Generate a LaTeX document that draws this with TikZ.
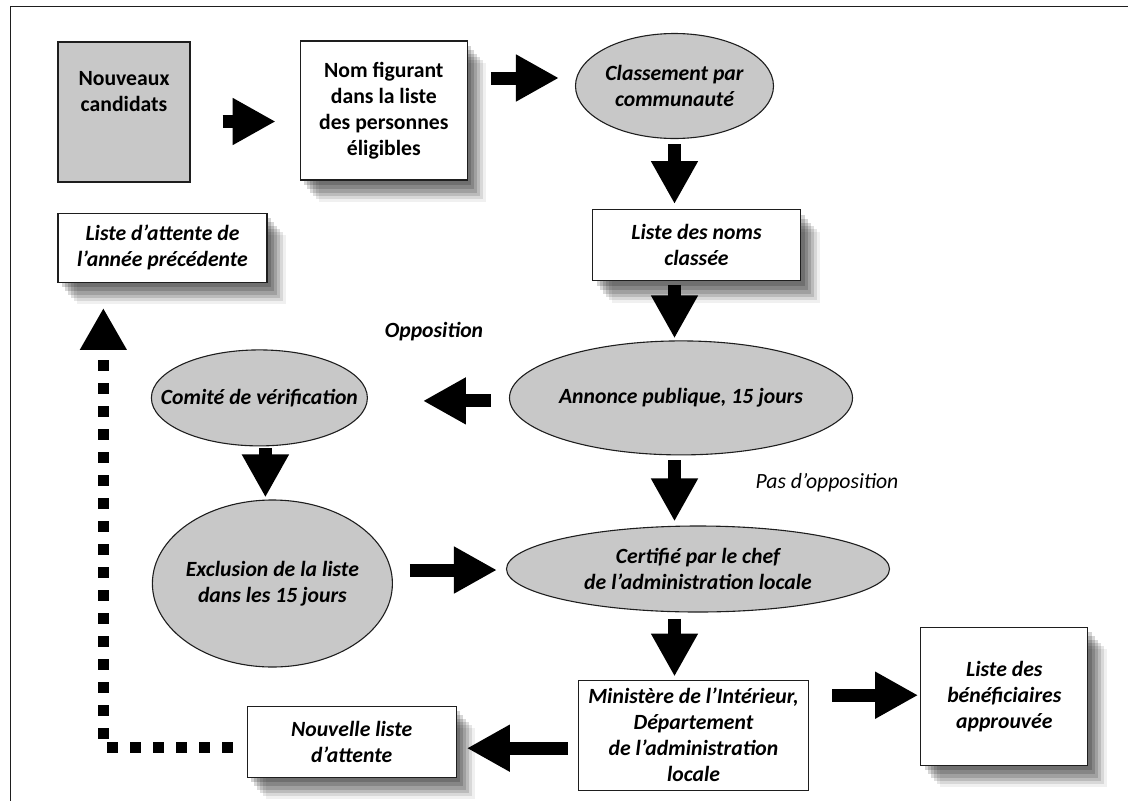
\documentclass[tikz,border=0pt]{standalone}
\usepackage{fontspec}
\setmainfont{Carlito}
\usepackage{tikz}
\usetikzlibrary{positioning,arrows.meta,shapes.geometric,shadows}
\definecolor{grisfond}{HTML}{C8C8C8}
\definecolor{trait}{HTML}{1E1E1E}

\begin{document}
\begin{tikzpicture}[x=1pt,y=-1pt,
   font=\fontsize{21.7}{26}\selectfont\bfseries\itshape,
   ombre/.style={drop shadow={shadow xshift=4pt,shadow yshift=-5pt,fill=black,opacity=.17},
                 drop shadow={shadow xshift=7pt,shadow yshift=-9pt,fill=black,opacity=.16},
                 drop shadow={shadow xshift=10pt,shadow yshift=-13pt,fill=black,opacity=.15},
                 drop shadow={shadow xshift=13pt,shadow yshift=-16pt,fill=black,opacity=.13},
                 drop shadow={shadow xshift=16pt,shadow yshift=-19pt,fill=black,opacity=.1},
                 drop shadow={shadow xshift=19pt,shadow yshift=-22pt,fill=black,opacity=.06}},
   boite/.style={draw=trait,line width=1.3pt,fill=white,align=center,inner sep=2pt},
   grisbox/.style={draw=trait,line width=1.3pt,fill=grisfond,align=center},
   bulle/.style={ellipse,draw=trait,line width=1.1pt,fill=grisfond,align=center,
                 inner xsep=-80pt,inner ysep=0pt},
   droit/.style={font=\fontsize{21.7}{26}\selectfont\bfseries},
   etiq/.style={font=\fontsize{21.7}{26}\selectfont\itshape},
   fleche/.style={line width=13pt,-{Triangle[length=43pt,width=44pt]},
                  shorten <=4pt,shorten >=4pt},
   pointille/.style={line width=11pt,dash pattern=on 11pt off 12pt,
                  -{Triangle[length=42pt,width=44pt]}},
   node distance=30pt,
]
\useasboundingbox (0,0) rectangle (1128,801);
\draw[line width=1.6pt,trait] (10.5,801) |- (1128,6.5);

% ----- haut : candidats et classement
\node[grisbox,minimum width=132pt,minimum height=140pt,
      label={[name=candtxt,anchor=north,yshift=-27pt,align=center,droit]north:Nouveaux\\candidats}]
      (cand) at (124,112) {};
\node[boite,ombre,droit,minimum width=167pt,minimum height=139pt,right=109pt of cand,yshift=1.5pt]
      (nom) {Nom figurant\\dans la liste\\des personnes\\éligibles};
\node[bulle,minimum width=198pt,minimum height=105pt,right=107pt of nom,yshift=24.5pt]
      (classement) {Classement par\\communauté};
\node[boite,ombre,minimum width=208pt,minimum height=71pt,below=70pt of classement,xshift=22pt]
      (classee) {Liste des noms\\classée};
\node[boite,ombre,minimum width=209pt,minimum height=69pt,below=30pt of cand,xshift=38.5pt]
      (attente) {Liste d’attente de\\l’année précédente};

% ----- colonne centrale
\node[bulle,minimum width=343pt,minimum height=114pt,below=59pt of classee,xshift=-15.5pt]
      (annonce) {Annonce publique, 15 jours};
\node[bulle,minimum width=383pt,minimum height=86pt,below=70pt of annonce,xshift=17pt]
      (certifie) {Certifié par le chef\\de l’administration locale};
\node[boite,minimum width=230pt,minimum height=110pt,below=67pt of certifie,xshift=-4.5pt]
      (ministere) {Ministère de l’Intérieur,\\Département\\de l’administration\\locale};
\node[boite,ombre,minimum width=167pt,minimum height=138pt,right=111pt of ministere,yshift=39pt]
      (benef) {Liste des\\bénéficiaires\\approuvée};
\node[boite,ombre,minimum width=209pt,minimum height=71pt,left=121pt of ministere,yshift=-6.5pt]
      (nouvelle) {Nouvelle liste\\d’attente};

% ----- branche opposition
\node[bulle,minimum width=216pt,minimum height=96pt,left=141pt of annonce]
      (comite) {Comité de vérification};
\node[bulle,minimum width=240pt,minimum height=167pt,below=53pt of comite,xshift=13pt]
      (exclusion) {Exclusion de la liste\\dans les 15 jours};
\node[font=\fontsize{21.7}{26}\selectfont\bfseries\itshape] (opp) at (434,332) {Opposition};
\node[etiq] (pasopp) at (827,483) {Pas d’opposition};

% ----- fleches
\draw[fleche,shorten <=32pt,shorten >=24pt] ([yshift=-9.5pt]cand.east) -- ([yshift=-9.5pt]cand.east -| nom.west);
\draw[fleche,shorten <=23pt,shorten >=16pt] ([yshift=32.5pt]nom.east) -- ([yshift=32.5pt]nom.east -| classement.west);
\draw[fleche,shorten <=5pt,shorten >=5pt] (classement.south) -- (classement.south |- classee.north);
\draw[fleche,shorten <=4pt,shorten >=2pt] (classee.south -| classement) -- (annonce.north -| classement);
\draw[fleche,shorten <=5pt,shorten >=4pt] (annonce.south -| classement) -- (certifie.north -| classement);
\draw[fleche,shorten <=6pt,shorten >=3pt] (certifie.south -| classement) -- (ministere.north -| classement);
\draw[fleche,shorten <=18pt,shorten >=55pt] ([yshift=-3pt]annonce.west) -- ([yshift=-3pt]annonce.west -| comite.east);
\draw[fleche,shorten <=2pt,shorten >=2pt] ([xshift=6pt]comite.south) -- ([xshift=6pt]comite.south |- exclusion.north);
\draw[fleche,shorten <=17pt,shorten >=9pt] ([yshift=13.5pt]exclusion.east) -- ([yshift=13.5pt]exclusion.east -| certifie.west);
\draw[fleche,shorten <=23pt,shorten >=2pt] ([yshift=40pt]ministere.east) -- ([yshift=40pt]ministere.east -| benef.west);
\draw[fleche,shorten <=10pt,shorten >=10pt] ([yshift=-13pt]ministere.west) -- ([yshift=-13pt]ministere.west -| nouvelle.east);
\draw[pointille,shorten <=14pt,shorten >=25pt] ([yshift=-6pt]nouvelle.west) -| ([xshift=46pt]attente.south west);
\end{tikzpicture}
\end{document}
